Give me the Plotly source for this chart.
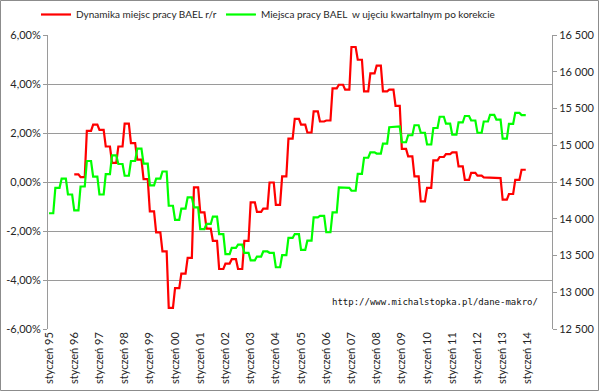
import numpy as np
import plotly.graph_objects as go

# Quarterly values (calendar quarters), shown as monthly steps as in the source chart
# Green: Q1 1995 .. Q4 2013 (thousands employed, BAEL, seasonally adjusted)
green_quarterly = [
    14075, 14421, 14547, 14330,
    14115, 14439, 14786, 14574,
    14330, 14608, 14863, 14745,
    14585, 14786, 14955, 14751,
    14455, 14547, 14643, 14177,
    13986, 14139, 14292, 14156,
    13860, 13929, 14030, 13792,
    13520, 13605, 13647, 13537,
    13435, 13486, 13555, 13537,
    13340, 13504, 13739, 13792,
    13576, 13702, 14020, 14040,
    13816, 14088, 14428, 14421,
    14381, 14610, 14830, 14904,
    14887, 15023, 15245, 15255,
    15041, 15136, 15272, 15170,
    15010, 15235, 15388, 15293,
    15143, 15310, 15398, 15337,
    15170, 15323, 15412, 15350,
    15090, 15290, 15440, 15410,
]
green_start_month = 0  # styczeń 95

# Red: y/y change in %, Q1 1996 .. Q4 2013
red_quarterly = [
    0.31, 0.20, 2.09, 2.34,
    2.13, 1.45, 0.78, 1.45,
    2.38, 1.59, 0.91, 0.12,
    -1.20, -2.06, -2.83, -5.14,
    -4.33, -3.74, -3.10, -0.22,
    -1.24, -1.90, -2.40, -3.55,
    -3.33, -3.15, -3.55, -2.40,
    -0.83, -1.22, -1.09, -0.02,
    -0.93, 0.23, 1.77, 2.58,
    2.34, 2.02, 2.88, 2.47,
    2.51, 3.82, 3.97, 3.77,
    5.51, 4.99, 3.70, 4.43,
    4.75, 3.70, 3.77, 3.11,
    1.35, 1.05, 0.23, -0.79,
    -0.24, 0.88, 1.02, 1.14,
    1.21, 0.64, 0.09, 0.37,
    0.26, 0.19, 0.16, 0.16,
    -0.72, -0.49, 0.09, 0.50,
]
red_start_month = 12  # styczeń 96

n_months = 240  # styczeń 95 .. grudzień 14 (category axis)

x_tick_labels = [
    "styczeń 95", "styczeń 96", "styczeń 97", "styczeń 98", "styczeń 99",
    "styczeń 00", "styczeń 01", "styczeń 02", "styczeń 03", "styczeń 04",
    "styczeń 05", "styczeń 06", "styczeń 07", "styczeń 08", "styczeń 09",
    "styczeń 10", "styczeń 11", "styczeń 12", "styczeń 13", "styczeń 14",
]
left_tick_values = [-6, -4, -2, 0, 2, 4, 6]
left_tick_labels = ["-6,00%", "-4,00%", "-2,00%", "0,00%", "2,00%", "4,00%", "6,00%"]
right_tick_values = [12500, 13000, 13500, 14000, 14500, 15000, 15500, 16000, 16500]
right_tick_labels = ["12 500", "13 000", "13 500", "14 000", "14 500",
                     "15 000", "15 500", "16 000", "16 500"]

red_name = "Dynamika miejsc pracy BAEL r/r"
green_name = "Miejsca pracy BAEL  w ujęciu kwartalnym po korekcie"
source_text = "http://www.michalstopka.pl/dane-makro/"

# monthly presentation
green_y = np.repeat(green_quarterly, 3)
green_x = np.arange(green_start_month, green_start_month + len(green_y))
red_y = np.repeat(red_quarterly, 3)
red_x = np.arange(red_start_month, red_start_month + len(red_y))

FONT = "Lato"
TXT = "#262626"
GRID = "#9a9a9a"

fig = go.Figure()
fig.add_trace(go.Scatter(x=red_x, y=red_y, mode="lines", name=red_name,
                         line=dict(color="#ff0000", width=2.2), yaxis="y",
                         legend="legend"))
fig.add_trace(go.Scatter(x=green_x, y=green_y, mode="lines", name=green_name,
                         line=dict(color="#00ff00", width=2.2), yaxis="y2",
                         legend="legend2"))

xr = [-0.5, n_months - 0.5]
leg_common = dict(orientation="h", xref="container", yref="container",
                  xanchor="left", y=1.0, yanchor="top",
                  font=dict(family=FONT, size=10, color=TXT),
                  itemwidth=30, bgcolor="rgba(0,0,0,0)")
fig.update_layout(
    width=600, height=392,
    margin=dict(l=48, r=48, t=35, b=63, autoexpand=False),
    paper_bgcolor="white", plot_bgcolor="white",
    font=dict(family=FONT, size=11, color=TXT),
    showlegend=True,
    legend=dict(x=36 / 600, **leg_common),
    legend2=dict(x=221 / 600, **leg_common),
    xaxis=dict(range=xr, tickmode="array",
               tickvals=[12 * i for i in range(len(x_tick_labels))],
               ticktext=x_tick_labels, tickangle=-90, ticks="",
               showgrid=False, zeroline=False, showline=False, automargin=False,
               tickfont=dict(family=FONT, size=11, color=TXT)),
    xaxis2=dict(range=xr, overlaying="x", anchor="free", position=0.5, side="bottom",
                tickmode="array", tickvals=[12 * i - 0.5 for i in range(21)],
                showticklabels=False, ticks="outside", ticklen=4, tickcolor=GRID,
                showline=True, linecolor=GRID, linewidth=1, automargin=False,
                showgrid=False, zeroline=False),
    yaxis=dict(range=[-6, 6], tickmode="array", tickvals=left_tick_values,
               ticktext=left_tick_labels, ticks="outside", ticklen=4, tickcolor=GRID,
               showline=True, linecolor=GRID, linewidth=1, automargin=False,
               showgrid=True, gridcolor=GRID, gridwidth=1, zeroline=False,
               tickfont=dict(family=FONT, size=11, color=TXT)),
    yaxis2=dict(range=[12500, 16500], overlaying="y", side="right", anchor="x",
                tickmode="array", tickvals=right_tick_values, ticktext=right_tick_labels,
                ticks="outside", ticklen=4, tickcolor=GRID, automargin=False,
                showline=True, linecolor=GRID, linewidth=1,
                showgrid=False, zeroline=False,
                tickfont=dict(family=FONT, size=11, color=TXT)),
    annotations=[dict(text=source_text, xref="paper", yref="paper",
                      x=0.976, y=0.092, xanchor="right", yanchor="middle",
                      showarrow=False,
                      font=dict(family="DejaVu Sans Mono", size=9, color="#111"))],
    shapes=[dict(type="rect", xref="paper", yref="paper",
                 x0=-47.5 / 504, x1=1 + 46.5 / 504, y0=-61.5 / 294, y1=1 + 34.5 / 294,
                 line=dict(color="#8c8c8c", width=1), fillcolor="rgba(0,0,0,0)",
                 layer="above")],
)

fig.write_html("out.html", config={"displayModeBar": False},
               post_script="document.body.style.margin='0';document.body.style.padding='0';")
